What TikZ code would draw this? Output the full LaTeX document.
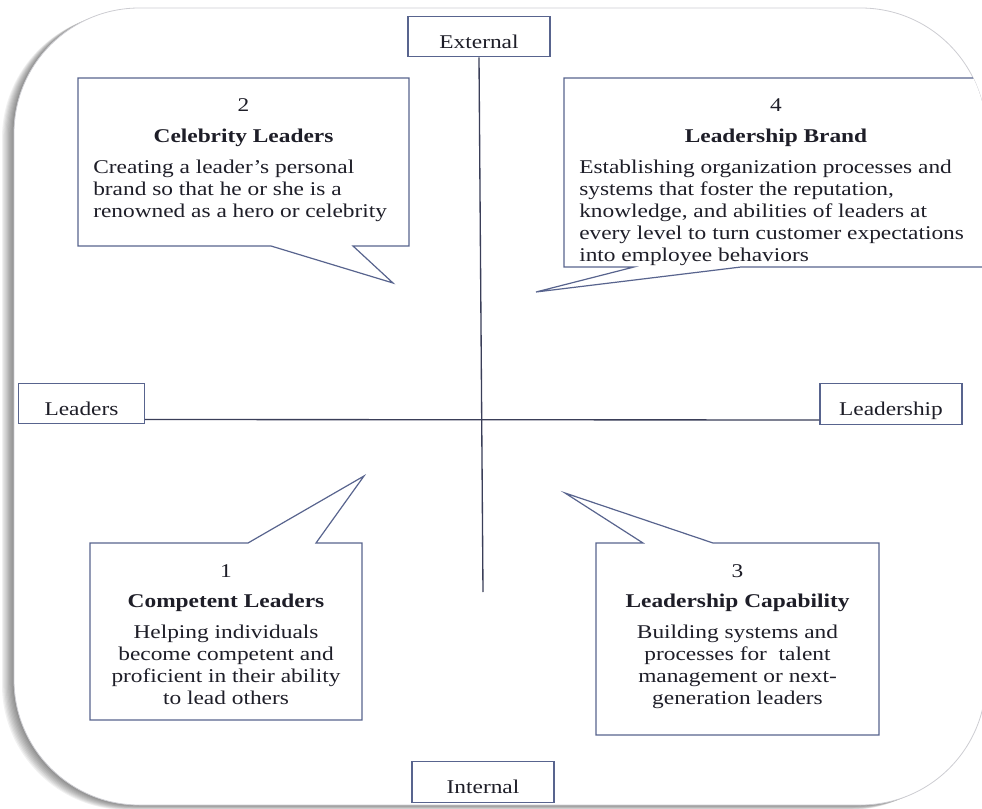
\documentclass[tikz,border=0pt]{standalone}
\usepackage{fontspec}
\setmainfont{Liberation Serif}[FakeStretch=1.2]
\usepackage{tikz}
\usepackage{color}

\definecolor{boxline}{RGB}{88,100,142}
\definecolor{axisline}{RGB}{58,62,88}
\definecolor{txtcol}{RGB}{30,30,40}
\definecolor{frameline}{RGB}{205,205,210}

\begin{document}
\begin{tikzpicture}[x=0.75pt,y=0.75pt,yscale=-1,xscale=1,
  every node/.style={font=\fontsize{14.6}{16.5}\selectfont, text=txtcol},
  axlab/.style={draw=boxline, line width=0.9pt, fill=white, inner sep=0pt,
    minimum width=106.5pt, text height=24pt, text depth=6.5pt},
  callout/.style={draw=boxline, line width=0.9pt, fill=white, line join=miter},
  axis/.style={draw=axisline, line width=1pt},
  txt/.style={inner sep=0pt}]
\useasboundingbox (0,0) rectangle (982,809);

%Frame shadow
\foreach \s in {1,...,10}
  \fill[black, opacity=0.055, shift={(-1.2*\s,0.5*\s)}, rounded corners=94pt] (14,8) rectangle (986,805);
%Frame
\filldraw[fill=white, draw=frameline, line width=0.6pt, rounded corners=94pt] (14,8) rectangle (986,805);

%Axes
\node[axlab] (ext) at (479,36.5) {External};
\node[axlab] (int) at (483,782) {Internal};
\node[axlab, minimum width=94pt] (lead) at (81.5,403.5) {Leaders};
\node[axlab] (ship) at (891,404) {Leadership};
\coordinate (vbot) at (483,592);
\draw[axis] (ext.south) -- (vbot);
\draw[axis] ([yshift=12pt]lead.east) -- ([yshift=12pt]ship.west);

%Callout 2
\draw[callout] (78,78) -- (409,78) -- (409,246) -- (353,246) -- (393,283) -- (271,246) -- (78,246) -- cycle;
% Text Node
\node[txt, anchor=base] (num2) at (243.5,112) {2};
\node[txt, anchor=base] (title2) at (243.5,143) {\textbf{Celebrity Leaders}};
\node[txt, anchor=north west, align=left] (body2) at (93,160) {Creating a leader’s personal\\brand so that he or she is a\\renowned as a hero or celebrity};

%Callout 4 (cut by the frame)
\begin{scope}
\clip[rounded corners=94pt] (14,8) rectangle (986,805);
\draw[callout] (564,78) -- (990,78) -- (990,267) -- (741,267) -- (536,292) -- (634,267) -- (564,267) -- cycle;
\end{scope}
% Text Node
\node[txt, anchor=base] (num4) at (776,112) {4};
\node[txt, anchor=base] (title4) at (776,143) {\textbf{Leadership Brand}};
\node[txt, anchor=north west, align=left] (body4) at (579,160) {Establishing organization processes and\\systems that foster the reputation,\\knowledge, and abilities of leaders at\\every level to turn customer expectations\\into employee behaviors};

%Callout 1
\draw[callout] (90,543) -- (248,543) -- (364,476) -- (316,543) -- (362,543) -- (362,720) -- (90,720) -- cycle;
% Text Node
\node[txt, anchor=base] (num1) at (226,577) {1};
\node[txt, anchor=base] (title1) at (226,607) {\textbf{Competent Leaders}};
\node[txt, anchor=north, align=center] (body1) at (226,625) {Helping individuals\\become competent and\\proficient in their ability\\to lead others};

%Callout 3
\draw[callout] (596,543) -- (643,543) -- (565,493) -- (713,543) -- (879,543) -- (879,735) -- (596,735) -- cycle;
% Text Node
\node[txt, anchor=base] (num3) at (737.5,577) {3};
\node[txt, anchor=base] (title3) at (737.5,607) {\textbf{Leadership Capability}};
\node[txt, anchor=north, align=center] (body3) at (737.5,625) {Building systems and\\processes for~~talent\\management or next-\\generation leaders};

\end{tikzpicture}
\end{document}
